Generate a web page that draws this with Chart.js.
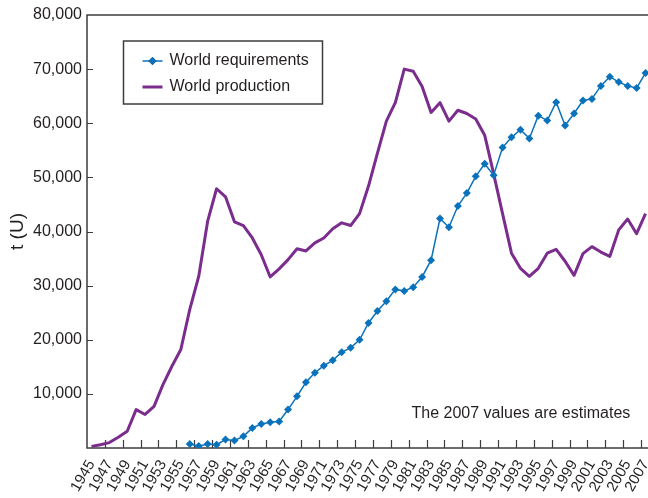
<!DOCTYPE html>
<html>
<head>
<meta charset="utf-8">
<title>World uranium requirements and production</title>
<script src="https://cdn.jsdelivr.net/npm/chart.js@4/dist/chart.umd.min.js"></script>
<style>
  html, body { margin: 0; padding: 0; background: #ffffff; overflow: hidden; }
  body { width: 648px; height: 498px; }
  #wrap { position: relative; width: 656px; height: 498px; }
</style>
</head>
<body>
<div id="wrap"><canvas id="chart" width="656" height="498"></canvas></div>
<script>
// Years on the category axis
const years = [
  '1945','1946','1947','1948','1949','1950','1951','1952','1953','1954',
  '1955','1956','1957','1958','1959','1960','1961','1962','1963','1964',
  '1965','1966','1967','1968','1969','1970','1971','1972','1973','1974',
  '1975','1976','1977','1978','1979','1980','1981','1982','1983','1984',
  '1985','1986','1987','1988','1989','1990','1991','1992','1993','1994',
  '1995','1996','1997','1998','1999','2000','2001','2002','2003','2004',
  '2005','2006','2007'
];

// Reactor uranium requirements, tonnes U (none before 1956)
const requirements = [
  null, null, null, null, null, null, null, null, null, null,
  null, 750, 350, 750, 600, 1550, 1400, 2150, 3700, 4450,
  4750, 4900, 7100, 9550, 12150, 13900, 15200, 16200, 17700, 18500,
  20000, 23100, 25300, 27100, 29300, 29000, 29700, 31600, 34700, 42400,
  40800, 44700, 47100, 50200, 52500, 50400, 55500, 57400, 58800, 57200,
  61400, 60500, 63900, 59600, 61800, 64200, 64500, 66900, 68600, 67600,
  66900, 66500, 69300
];

// Mine production, tonnes U
const production = [
  300, 600, 1000, 2000, 3100, 7100, 6200, 7700, 11700, 15100,
  18200, 25600, 31700, 41900, 47900, 46400, 41800, 41100, 38800, 35700,
  31600, 33100, 34800, 36800, 36400, 37900, 38800, 40500, 41600, 41100,
  43300, 48400, 54500, 60400, 63800, 70000, 69600, 66800, 62000, 63800,
  60400, 62400, 61800, 60800, 57800, 50700, 43300, 36000, 33200, 31700,
  33200, 36000, 36700, 34500, 31900, 35900, 37200, 36200, 35400, 40300,
  42300, 39600, 43300
];

// Value axis range and step
const yTicks = { min: 0, max: 80000, step: 10000 };

const seriesNames = ['World requirements', 'World production'];
const note = 'The 2007 values are estimates';

const BLUE = '#0a72bb';
const PURPLE = '#7b2d8d';
const INK = '#231f20';
const FRAME = '#3d3d3d';
const FONT = "'Liberation Sans', Arial, Helvetica, sans-serif";

// Plot frame plus inward-pointing tick marks
const framePlugin = {
  id: 'frame',
  beforeDatasetsDraw(chart) {
    const { ctx, chartArea: a } = chart;
    const xs = chart.scales.x, ys = chart.scales.y;
    ctx.save();
    ctx.strokeStyle = FRAME;
    ctx.lineWidth = 1.5;
    ctx.strokeRect(a.left, a.top, a.right - a.left, a.bottom - a.top);

    // x ticks on category boundaries, every second year
    const step = xs.getPixelForValue(1) - xs.getPixelForValue(0);
    ctx.lineWidth = 1.2;
    ctx.beginPath();
    for (let i = 2; i < years.length; i += 2) {
      const px = Math.round(xs.getPixelForValue(i) - step / 2) + 0.5;
      ctx.moveTo(px, a.bottom);
      ctx.lineTo(px, a.bottom - 8);
    }
    // y ticks
    ys.ticks.forEach(t => {
      if (t.value <= yTicks.min || t.value >= yTicks.max) return;
      const py = Math.round(ys.getPixelForValue(t.value)) + 0.5;
      ctx.moveTo(a.left, py);
      ctx.lineTo(a.left + 6, py);
    });
    ctx.stroke();
    ctx.restore();
  }
};

// Boxed legend inside the plot and the footnote
const legendPlugin = {
  id: 'boxLegend',
  afterDraw(chart, args, opts) {
    const { ctx } = chart;
    const b = opts.box;
    ctx.save();
    ctx.strokeStyle = FRAME;
    ctx.lineWidth = 1.5;
    ctx.strokeRect(b.x, b.y, b.w, b.h);

    ctx.font = '16px ' + FONT;
    ctx.fillStyle = INK;
    ctx.textBaseline = 'middle';
    ctx.textAlign = 'left';

    const ds = chart.data.datasets;
    ds.forEach((d, i) => {
      const y = b.y + opts.rowTop + i * opts.rowGap;
      const x0 = b.x + opts.swatchLeft, x1 = x0 + opts.swatchLen;
      ctx.strokeStyle = d.borderColor;
      ctx.lineWidth = d.borderWidth;
      ctx.beginPath();
      ctx.moveTo(x0, y);
      ctx.lineTo(x1, y);
      ctx.stroke();
      if (d.pointRadius > 0) {
        Chart.helpers.drawPoint(ctx, {
          pointStyle: d.pointStyle, radius: d.pointRadius, borderWidth: 0, rotation: 0
        }, (x0 + x1) / 2, y);
        ctx.fillStyle = d.backgroundColor;
        ctx.fill();
      }
      ctx.fillStyle = INK;
      ctx.fillText(d.label, x1 + opts.textGap, y);
    });

    ctx.fillText(note, opts.note.x, opts.note.y);
    ctx.restore();
  }
};

new Chart(document.getElementById('chart'), {
  type: 'line',
  data: {
    labels: years,
    datasets: [
      {
        label: seriesNames[0],
        data: requirements,
        borderColor: BLUE,
        backgroundColor: BLUE,
        borderWidth: 1.5,
        pointStyle: 'rectRot',
        pointRadius: 4,
        pointBorderWidth: 0,
        pointBackgroundColor: BLUE,
        tension: 0,
        spanGaps: false
      },
      {
        label: seriesNames[1],
        data: production,
        borderColor: PURPLE,
        backgroundColor: PURPLE,
        borderWidth: 3,
        pointRadius: 0,
        tension: 0,
        borderJoinStyle: 'round'
      }
    ]
  },
  options: {
    responsive: false,
    animation: false,
    devicePixelRatio: 1,
    layout: { padding: { top: 15, right: 6, bottom: 0, left: 0 } },
    plugins: {
      legend: { display: false },
      tooltip: { enabled: false },
      boxLegend: {
        box: { x: 123.5, y: 41, w: 199, h: 63 },
        rowTop: 20, rowGap: 26,
        swatchLeft: 19, swatchLen: 20, textGap: 7,
        note: { x: 411.5, y: 414 }
      }
    },
    scales: {
      x: {
        type: 'category',
        offset: true,
        grid: { display: false, drawTicks: false },
        border: { display: false },
        ticks: {
          autoSkip: false,
          minRotation: 60,
          maxRotation: 60,
          padding: 9,
          color: INK,
          font: { family: FONT, size: 15 },
          callback: (v, i) => (i % 2 === 0 ? years[i] : '')
        },
        afterFit: s => { s.height = 50; s.paddingLeft = 0; s.paddingRight = 0; }
      },
      y: {
        min: yTicks.min,
        max: yTicks.max,
        grid: { display: false, drawTicks: false },
        border: { display: false },
        ticks: {
          stepSize: yTicks.step,
          padding: 5,
          color: INK,
          font: { family: FONT, size: 16 },
          callback: v => (v === 0 ? '' : v.toLocaleString('en-US'))
        },
        title: {
          display: true,
          text: 't (U)',
          color: INK,
          font: { family: FONT, size: 19 },
          padding: { top: 6, bottom: 0 }
        },
        afterFit: s => { s.width = 87; s.paddingTop = 0; s.paddingBottom = 0; }
      }
    }
  },
  plugins: [framePlugin, legendPlugin]
});
</script>
</body>
</html>
